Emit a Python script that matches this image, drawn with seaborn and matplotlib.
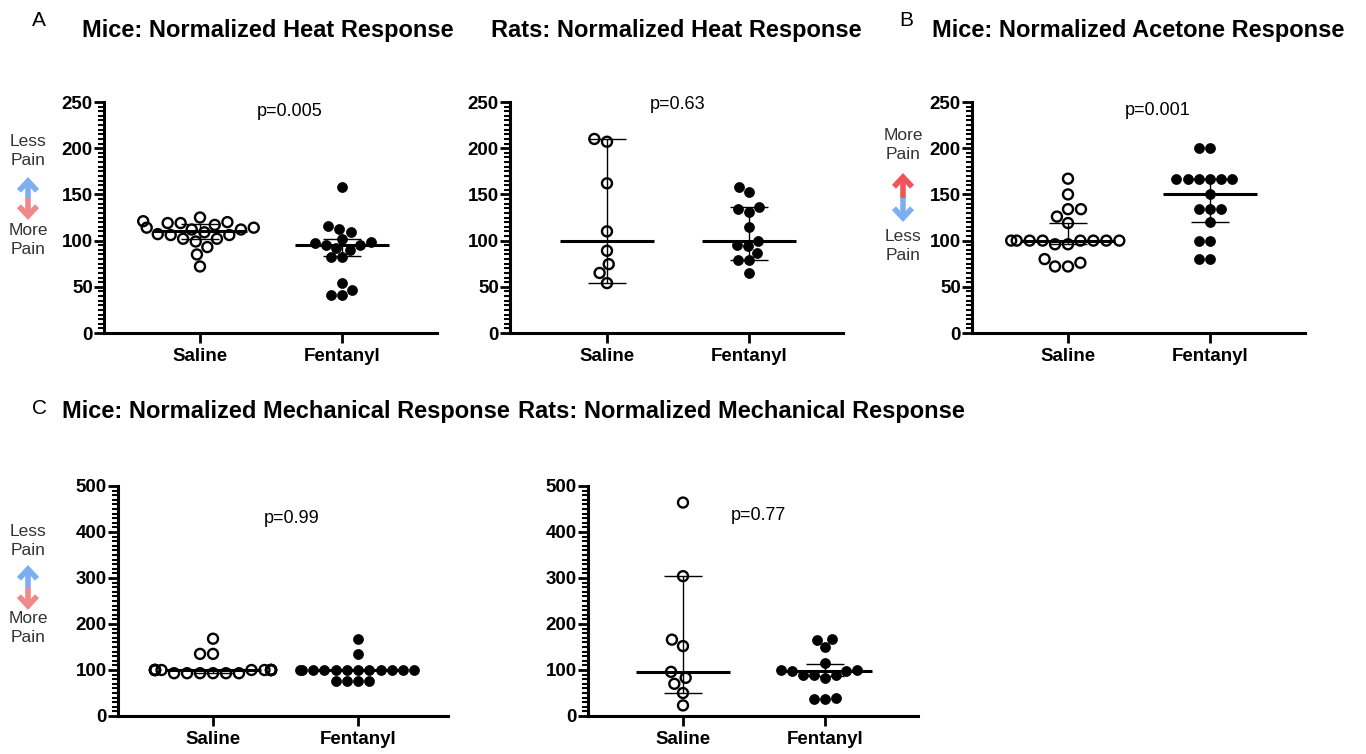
import numpy as np
import pandas as pd
import matplotlib
matplotlib.use("Agg")
import matplotlib.pyplot as plt
import seaborn as sns
from matplotlib.ticker import MultipleLocator, NullLocator
from matplotlib.patches import FancyArrowPatch

# ---------------- data ----------------
groups = ["Saline", "Fentanyl"]

heat_mice_saline = [121, 125, 109, 114, 112, 99, 119, 107, 114, 102, 85, 72, 112, 93, 119, 102, 120, 106, 117, 106]
heat_mice_fentanyl = [158, 109, 116, 113, 99, 92, 95, 97, 102, 90, 95, 82, 82, 54, 41, 41, 46]
heat_mice_median = [110.5, 95]
heat_mice_lower = [102, 83]
heat_mice_upper = [118.5, 102]

heat_rats_saline = [207, 210, 162, 110, 89, 74.5, 65, 54]
heat_rats_fentanyl = [153, 158, 131, 134, 136, 115, 100, 95, 94, 87, 79, 79, 64.5]
heat_rats_median = [100, 100]
heat_rats_lower = [54, 79]
heat_rats_upper = [210, 136]

acetone_mice_saline = [167, 150, 134, 134, 126, 119, 96, 100, 100, 100, 96, 100, 100, 100, 100, 100, 80, 72, 72, 76]
acetone_mice_fentanyl = [200, 200, 167, 167, 167, 167, 167, 167, 150, 134, 134, 134, 120, 100, 100, 80, 80]
acetone_mice_median = [100, 150]
acetone_mice_lower = [96, 120]
acetone_mice_upper = [119, 167]

mech_mice_saline = [168, 135, 135, 100, 100, 100, 100, 100, 100, 100, 100, 100, 100, 100, 100, 100,
                    93, 93, 93, 93, 93, 93]
mech_mice_fentanyl = [168, 135, 100, 100, 100, 100, 100, 100, 100, 100, 100, 100, 100, 100, 76, 76, 76, 76]
mech_mice_median = [100, 100]
mech_mice_lower = [93, 100]
mech_mice_upper = [100, 100]

mech_rats_saline = [464, 304, 166, 152, 96, 70, 83, 50, 23]
mech_rats_fentanyl = [166, 168, 150, 115, 97, 97, 90, 83, 90, 90, 101, 101, 36, 39, 36]
mech_rats_median = [96, 97]
mech_rats_lower = [50, 88]
mech_rats_upper = [304, 114]

titles = ["Mice: Normalized Heat Response", "Rats: Normalized Heat Response",
          "Mice: Normalized Acetone Response", "Mice: Normalized Mechanical Response",
          "Rats: Normalized Mechanical Response"]
pvalues = ["p=0.005", "p=0.63", "p=0.001", "p=0.99", "p=0.77"]

# ---------------- style ----------------
sns.set_style("ticks")
plt.rcParams["font.family"] = ["Liberation Sans", "DejaVu Sans"]
plt.rcParams["text.color"] = "black"
plt.rcParams["xtick.color"] = "black"
plt.rcParams["ytick.color"] = "black"
plt.rcParams["axes.edgecolor"] = "black"

W, H = 1366, 754
fig = plt.figure(figsize=(W / 100, H / 100), dpi=100)


def fx(px):
    return px / W


def fy(py):
    return 1 - py / H


def panel(rect, sal, fen, med, lo, hi, ymax, major, minor, xlim, ptxt, ppos):
    ax = fig.add_axes(rect)
    df = pd.DataFrame({"group": ["Saline"] * len(sal) + ["Fentanyl"] * len(fen),
                       "value": list(sal) + list(fen)})
    pos = np.arange(len(groups))
    # median + interval lines
    ax.hlines(med, pos - 0.33, pos + 0.33, color="black", lw=2.2, zorder=1)
    ax.vlines(pos, lo, hi, color="black", lw=1, zorder=1)
    ax.hlines(lo, pos - 0.135, pos + 0.135, color="black", lw=1, zorder=1)
    ax.hlines(hi, pos - 0.135, pos + 0.135, color="black", lw=1, zorder=1)

    for g, face, lw in [("Saline", "none", 1.7), ("Fentanyl", "black", 0.5)]:
        n0 = len(ax.collections)
        sns.swarmplot(data=df[df.group == g], x="group", y="value", order=groups,
                      color="black", size=7.2, ax=ax, warn_thresh=1, zorder=3)
        for c in ax.collections[n0:]:
            c.set_facecolor(face)
            c.set_edgecolor("black")
            c.set_linewidth(lw)

    ax.set_ylim(0, ymax)
    ax.set_xlim(*xlim)
    ax.yaxis.set_major_locator(MultipleLocator(major))
    ax.yaxis.set_minor_locator(MultipleLocator(minor))
    ax.xaxis.set_minor_locator(NullLocator())
    sns.despine(ax=ax)
    for s in ["left", "bottom"]:
        ax.spines[s].set_linewidth(2.2)
    ax.tick_params(axis="y", which="major", length=7, width=2, labelsize=13.5, pad=1)
    ax.tick_params(axis="y", which="minor", length=4, width=1.5)
    ax.tick_params(axis="x", which="major", length=7, width=2, labelsize=13.5, pad=4)
    ax.set_xlabel("")
    ax.set_ylabel("")
    for lab in ax.get_xticklabels() + ax.get_yticklabels():
        lab.set_fontweight("bold")
    ax.text(ppos[0], ppos[1], ptxt, ha="center", va="center", fontsize=13)
    ax.patch.set_alpha(0)
    return ax


top_b = fy(333)
top_h = 231 / H
bot_b = fy(716)
bot_h = 230 / H

panel([fx(104), top_b, 333 / W, top_h], heat_mice_saline, heat_mice_fentanyl,
      heat_mice_median, heat_mice_lower, heat_mice_upper, 250, 50, 5,
      (-0.676, 1.669), pvalues[0], (0.63, 240))
panel([fx(510), top_b, 333 / W, top_h], heat_rats_saline, heat_rats_fentanyl,
      heat_rats_median, heat_rats_lower, heat_rats_upper, 250, 50, 5,
      (-0.683, 1.662), pvalues[1], (0.5, 247))
panel([fx(972), top_b, 333 / W, top_h], acetone_mice_saline, acetone_mice_fentanyl,
      acetone_mice_median, acetone_mice_lower, acetone_mice_upper, 250, 50, 5,
      (-0.676, 1.669), pvalues[2], (0.63, 241))
panel([fx(118), bot_b, 330 / W, bot_h], mech_mice_saline, mech_mice_fentanyl,
      mech_mice_median, mech_mice_lower, mech_mice_upper, 500, 100, 10,
      (-0.655, 1.62), pvalues[3], (0.54, 430))
panel([fx(588), bot_b, 330 / W, bot_h], mech_rats_saline, mech_rats_fentanyl,
      mech_rats_median, mech_rats_lower, mech_rats_upper, 500, 100, 10,
      (-0.669, 1.655), pvalues[4], (0.53, 435))

# ---------------- titles and panel letters ----------------
tkw = dict(fontsize=17.0, fontweight="bold", va="center", ha="left")
fig.text(fx(32), fy(21), "A", fontsize=15, va="center", ha="left")
fig.text(fx(82), fy(30), titles[0], **tkw)
fig.text(fx(491), fy(30), titles[1], **tkw)
fig.text(fx(899), fy(20), "B", fontsize=15, va="center", ha="left")
fig.text(fx(932), fy(30), titles[2], **tkw)
fig.text(fx(32), fy(409), "C", fontsize=15, va="center", ha="left")
fig.text(fx(62), fy(411), titles[3], **tkw)
fig.text(fx(518), fy(411), titles[4], **tkw)


# ---------------- pain direction indicators ----------------
def pain_marker(x, top_words, bottom_words, y_top_text, y_tip_top, y_mid, y_tip_bot, y_bot_text,
                up_color, down_color):
    fig.text(fx(x), fy(y_top_text), top_words, fontsize=12.5, ha="center", va="center",
             linespacing=1.35, color="#333333")
    fig.text(fx(x), fy(y_bot_text), bottom_words, fontsize=12.5, ha="center", va="center",
             linespacing=1.35, color="#333333")
    for y0, y1, col in [(y_mid, y_tip_top, up_color), (y_mid, y_tip_bot, down_color)]:
        arr = FancyArrowPatch((fx(x), fy(y0)), (fx(x), fy(y1)), transform=fig.transFigure,
                              arrowstyle="->,head_length=7,head_width=6.5", lw=4,
                              color=col, shrinkA=0, shrinkB=0, capstyle="butt",
                              joinstyle="miter")
        fig.add_artist(arr)


blue = "#7eaef2"
red_soft = "#f08a8a"
red_bright = "#f2545c"
pain_marker(28, "Less\nPain", "More\nPain", 151, 177, 198, 220, 240, blue, red_soft)
pain_marker(903, "More\nPain", "Less\nPain", 145, 173, 198, 222, 246, red_bright, blue)
pain_marker(28, "Less\nPain", "More\nPain", 541, 565, 588, 610, 628, blue, red_soft)

fig.savefig("out.png", dpi=100)
